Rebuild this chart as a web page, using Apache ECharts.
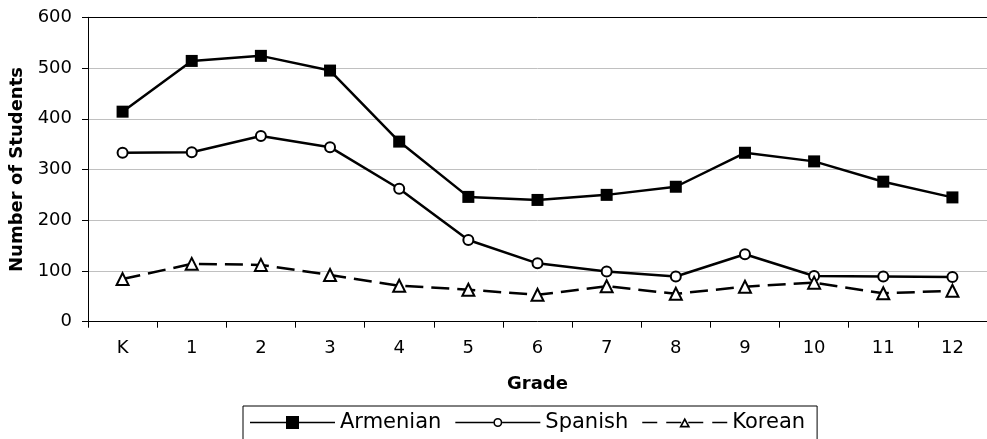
<!DOCTYPE html>
<html>
<head>
<meta charset="utf-8">
<script src="https://cdn.jsdelivr.net/npm/echarts@6/dist/echarts.min.js"></script>
<style>
html,body{margin:0;padding:0;background:#fff;}
#chart{width:987px;height:439px;}
</style>
</head>
<body>
<div id="chart"></div>
<script>
var grades = ['K','1','2','3','4','5','6','7','8','9','10','11','12'];
var armenian = [414, 514, 524, 495, 355, 246, 240, 250, 266, 333, 316, 276, 245];
var spanish = [333, 334, 366, 344, 262, 161, 115, 99, 89, 133, 90, 89, 88];
var korean = [84, 114, 112, 92, 71, 63, 53, 70, 55, 69, 77, 56, 61];
var yTicks = [0, 100, 200, 300, 400, 500, 600];
var seriesNames = ['Armenian', 'Spanish', 'Korean'];

var FONT = 'DejaVu Sans, Verdana, sans-serif';
var grey = '#c0c0c0';

// Legend icons (85 x 16 box): line + marker, as filled paths
var iconArmenian = 'path://M0 7.25H85V8.75H0Z M36 1.5H49V14.5H36Z';
var iconSpanish = 'path://M0 7.25H38V8.75H0Z M47 7.25H85V8.75H47Z ' +
  'M38 8A4.5 4.5 0 1 1 47 8A4.5 4.5 0 1 1 38 8Z ' +
  'M39.6 8A2.9 2.9 0 1 0 45.4 8A2.9 2.9 0 1 0 39.6 8Z';
var iconKorean = 'path://M0 7.25H15V8.75H0Z M24 7.25H39V8.75H24Z M46 7.25H61V8.75H46Z M70 7.25H85V8.75H70Z ' +
  'M42.5 3L48 13L37 13Z M42.5 6.53L39.88 11.3L45.12 11.3Z';

var chart = echarts.init(document.getElementById('chart'), null, {renderer: 'canvas'});
chart.setOption({
  backgroundColor: '#fff',
  animation: false,
  textStyle: {fontFamily: FONT, color: '#000'},
  grid: {left: 88, top: 17.3, width: 910, height: 304.4, containLabel: false},
  xAxis: {
    type: 'category',
    data: grades,
    boundaryGap: true,
    name: 'Grade',
    nameLocation: 'middle',
    nameGap: 54,
    nameTextStyle: {fontFamily: FONT, fontSize: 18, fontWeight: 'bold', color: '#000'},
    axisLine: {lineStyle: {color: '#000', width: 1}},
    axisTick: {show: true, length: 6, lineStyle: {color: '#000'}},
    axisLabel: {fontFamily: FONT, fontSize: 18, color: '#000', margin: 18, interval: 0}
  },
  yAxis: {
    type: 'value',
    min: yTicks[0],
    max: yTicks[yTicks.length - 1],
    interval: 100,
    name: 'Number of Students',
    nameLocation: 'middle',
    nameRotate: 90,
    nameGap: 60,
    nameTextStyle: {fontFamily: FONT, fontSize: 18, fontWeight: 'bold', color: '#000'},
    axisLine: {show: true, lineStyle: {color: '#000', width: 1}},
    axisTick: {show: true, length: 6, lineStyle: {color: '#000'}},
    axisLabel: {fontFamily: FONT, fontSize: 18, color: '#000', margin: 16},
    splitLine: {show: true, lineStyle: {color: [grey, grey, grey, grey, grey, grey, '#000'], width: 1}}
  },
  legend: {
    show: true,
    left: 243,
    top: 406,
    orient: 'horizontal',
    itemWidth: 85,
    itemHeight: 16,
    itemGap: 14,
    symbolKeepAspect: true,
    padding: [6, 12, 14, 7],
    borderColor: '#000',
    borderWidth: 1,
    backgroundColor: '#fff',
    textStyle: {fontFamily: FONT, fontSize: 21, color: '#000'},
    data: [
      {name: seriesNames[0], icon: iconArmenian, itemStyle: {color: '#000', borderWidth: 0}},
      {name: seriesNames[1], icon: iconSpanish, itemStyle: {color: '#000', borderWidth: 0}},
      {name: seriesNames[2], icon: iconKorean, itemStyle: {color: '#000', borderWidth: 0}}
    ]
  },
  series: [
    {
      name: seriesNames[0], type: 'line', data: armenian,
      symbol: 'rect', symbolSize: 12,
      lineStyle: {color: '#000', width: 2.5},
      itemStyle: {color: '#000', borderColor: '#000', borderWidth: 0}
    },
    {
      name: seriesNames[1], type: 'line', data: spanish,
      symbol: 'circle', symbolSize: 10,
      lineStyle: {color: '#000', width: 2.5},
      itemStyle: {color: '#fff', borderColor: '#000', borderWidth: 2}
    },
    {
      name: seriesNames[2], type: 'line', data: korean,
      symbol: 'triangle', symbolSize: 12,
      lineStyle: {color: '#000', width: 2.5, type: [18, 8]},
      itemStyle: {color: '#fff', borderColor: '#000', borderWidth: 2}
    }
  ]
});
</script>
</body>
</html>
